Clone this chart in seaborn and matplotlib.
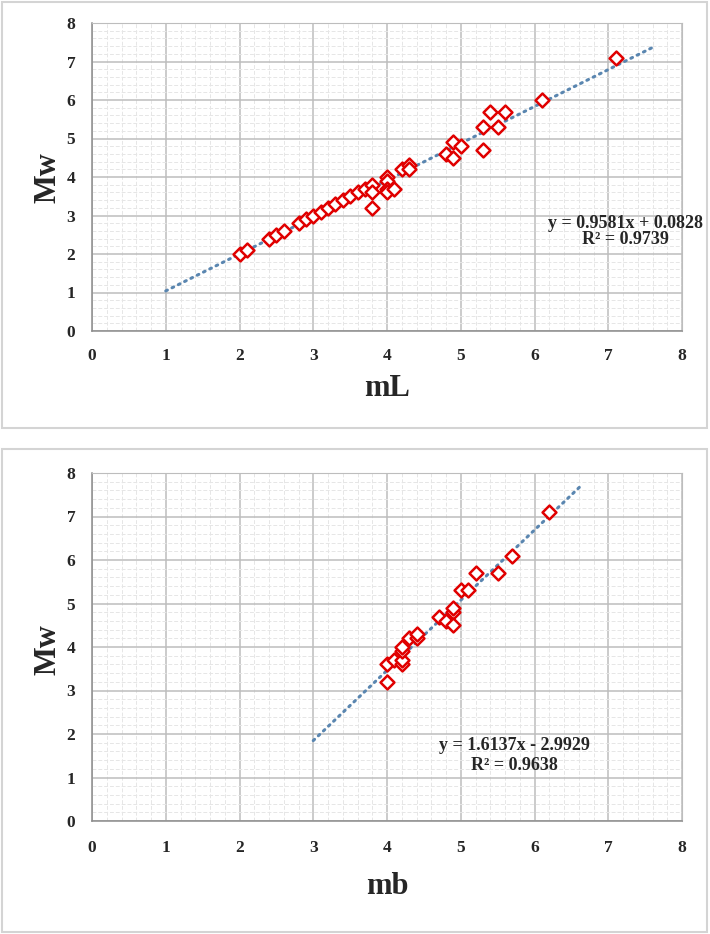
import numpy as np
import pandas as pd
import matplotlib
matplotlib.use("Agg")
import matplotlib.pyplot as plt
import seaborn as sns
from matplotlib.ticker import MultipleLocator
from matplotlib.patches import Rectangle

# mL vs Mw
ml_vals = [2.0, 2.1, 2.4, 2.5, 2.6, 2.8, 2.9, 3.0, 3.1, 3.2, 3.3, 3.4, 3.5, 3.6,
           3.7, 3.8, 3.8, 3.8, 4.0, 4.0, 4.0, 4.0, 4.1, 4.2, 4.3, 4.3, 4.8, 4.9,
           4.9, 5.0, 5.3, 5.3, 5.4, 5.5, 5.6, 6.1, 7.1]
mw_ml = [2.0, 2.1, 2.4, 2.5, 2.6, 2.8, 2.9, 3.0, 3.1, 3.2, 3.3, 3.4, 3.5, 3.6,
         3.7, 3.8, 3.6, 3.2, 4.0, 3.9, 3.7, 3.6, 3.7, 4.2, 4.3, 4.2, 4.6, 4.5,
         4.9, 4.8, 5.3, 4.7, 5.7, 5.3, 5.7, 6.0, 7.1]

# mb vs Mw
mb_vals = [4.0, 4.0, 4.1, 4.2, 4.2, 4.2, 4.2, 4.3, 4.4, 4.4, 4.7, 4.8, 4.9,
           4.9, 4.9, 5.0, 5.1, 5.2, 5.5, 5.7, 6.2]
mw_mb = [3.2, 3.6, 3.7, 3.6, 3.7, 3.9, 4.0, 4.2, 4.2, 4.3, 4.7, 4.6, 4.8,
         4.9, 4.5, 5.3, 5.3, 5.7, 5.7, 6.1, 7.1]

# trendlines (slope, intercept, r2) and the x span drawn
ml_fit = (0.9581, 0.0828, 0.9739)
mb_fit = (1.6137, -2.9929, 0.9638)
ml_span = [1.0, 7.6]
mb_span = [3.0, 6.65]

sns.set_style("white")
plt.rcParams["font.family"] = ["Liberation Serif", "DejaVu Serif"]
plt.rcParams["font.weight"] = "bold"

W, H = 710, 934
fig = plt.figure(figsize=(W / 100, H / 100), dpi=100)


def add_box(x0, y0, x1, y1):
    fig.patches.append(Rectangle((x0 / W, 1 - y1 / H), (x1 - x0) / W, (y1 - y0) / H,
                                 transform=fig.transFigure, fill=False,
                                 edgecolor="#D4D4D4", linewidth=1.5))


def panel(box, ax_px, xs, ys, fit, span, xlabel, ylab_y, xlab_y, eq_xy, xpad):
    add_box(*box)
    l, t, r, b = ax_px
    ax = fig.add_axes([l / W, 1 - b / H, (r - l) / W, (b - t) / H])
    df = pd.DataFrame({"x": xs, "y": ys})
    m, c, r2 = fit
    line_x = np.array(span)
    trend = pd.DataFrame({"x": line_x, "y": m * line_x + c})

    ax.set_xlim(0, 8)
    ax.set_ylim(0, 8)
    ax.xaxis.set_major_locator(MultipleLocator(1))
    ax.yaxis.set_major_locator(MultipleLocator(1))
    ax.xaxis.set_minor_locator(MultipleLocator(0.2))
    ax.yaxis.set_minor_locator(MultipleLocator(0.2))
    ax.grid(which="minor", color="#E6E6E6", linewidth=0.7, linestyle=(0, (4, 2)))
    ax.grid(which="major", color="#BDBDBD", linewidth=1.1)
    ax.set_axisbelow(True)

    sns.lineplot(data=trend, x="x", y="y", ax=ax, color="#5A86B0",
                 linewidth=2.2, linestyle=(0, (0.6, 1.7)), dash_capstyle="round")
    sns.scatterplot(data=df, x="x", y="y", ax=ax, marker="D", s=50,
                    color="white", edgecolor="#E00000", linewidth=1.8, zorder=3)

    for side in ["top", "right"]:
        ax.spines[side].set_color("#BDBDBD")
    for side in ["left", "bottom"]:
        ax.spines[side].set_color("#8C8C8C")
        ax.spines[side].set_linewidth(1.1)
    ax.tick_params(which="major", direction="out", length=5, width=1,
                   color="#8C8C8C", labelsize=12.5)
    ax.tick_params(axis="y", pad=7)
    ax.tick_params(axis="x", pad=xpad)
    ax.tick_params(which="minor", length=0)
    for lab in ax.get_xticklabels() + ax.get_yticklabels():
        lab.set_fontweight("bold")
    ax.set_xlabel("")
    ax.set_ylabel("")

    fig.text(48 / W, 1 - ylab_y / H, "Mw", rotation=90, ha="center", va="center",
             fontsize=22, fontweight="bold")
    fig.text(387 / W, 1 - xlab_y / H, xlabel, ha="center", va="center",
             fontsize=22, fontweight="bold")
    sign = "+" if c >= 0 else "-"
    ex, ey1, ey2 = eq_xy
    fig.text(ex / W, 1 - ey1 / H, f"y = {m:.4f}x {sign} {abs(c):.4f}",
             ha="center", va="center", fontsize=13, fontweight="bold")
    fig.text(ex / W, 1 - ey2 / H, f"R² = {r2:.4f}",
             ha="center", va="center", fontsize=13, fontweight="bold")
    return ax


panel((2, 2, 707, 428), (92, 23, 682, 331), ml_vals, mw_ml, ml_fit, ml_span,
      "mL", 178, 388, (625, 223, 240), 7)
panel((2, 449, 707, 932), (92, 473, 682, 821), mb_vals, mw_mb, mb_fit, mb_span,
      "mb", 650, 887, (514, 745, 766), 9)

plt.savefig("out.png", dpi=100)
plt.close()
